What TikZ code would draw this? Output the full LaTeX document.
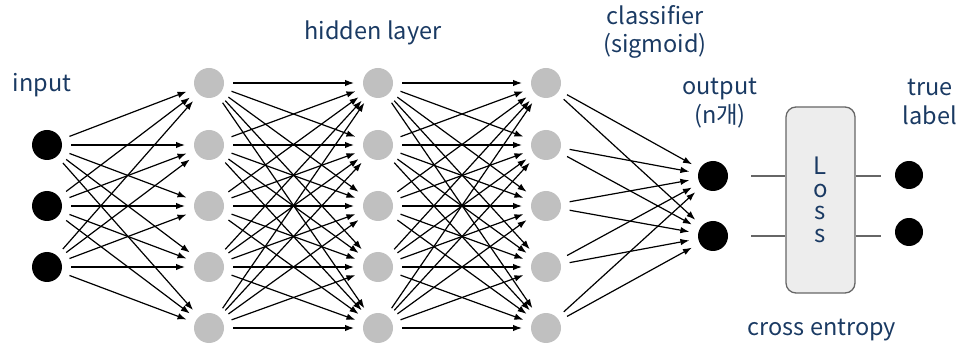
\documentclass[tikz,border=0pt]{standalone}
\usepackage{fontspec}
\setmainfont{Noto Sans CJK KR}
\usetikzlibrary{arrows.meta}
\definecolor{labelblue}{HTML}{1A3A63}
\definecolor{unitgray}{HTML}{C0C0C0}
\definecolor{lossfill}{HTML}{EDEDED}
\definecolor{lossedge}{HTML}{666666}
\begin{document}
\begin{tikzpicture}[x=1pt,y=-1pt,
  unit/.style={circle,minimum size=30pt,inner sep=0pt,outer sep=9pt},
  darkunit/.style={unit,fill=black},
  hidunit/.style={unit,fill=unitgray},
  link/.style={-{Latex[length=9pt,width=6.5pt]},line width=1.2pt},
  lbl/.style={text=labelblue,font=\fontsize{23.5}{28.5}\selectfont,align=center,inner sep=0pt},
  wire/.style={draw=lossedge,line width=1.3pt}]
\useasboundingbox (0,0) rectangle (960,344);

% input units
\foreach \i/\y in {1/145,2/206,3/267}
  \node[darkunit] (in\i) at (47,\y) {};
% hidden layers and classifier layer
\foreach \l/\x in {a/209,b/378,c/546}
  \foreach \j/\y in {1/83,2/145,3/206,4/267,5/328}
    \node[hidunit] (\l\j) at (\x,\y) {};
% output units
\node[darkunit] (o1) at (713,176) {};
\node[darkunit] (o2) at (713,236) {};
% true label units
\node[darkunit,minimum size=28pt] (t1) at (909,175) {};
\node[darkunit,minimum size=28pt] (t2) at (909,232) {};

% loss block
\node[rounded corners=10pt,fill=lossfill,draw=lossedge,line width=1.3pt,
      minimum width=69pt,minimum height=186pt,text=labelblue,
      font=\fontsize{24}{22.5}\selectfont,align=center] (loss) at (820.5,200)
      {L\\o\\s\\s};

% fully connected links
\foreach \i in {1,2,3}
  \foreach \j in {1,...,5}
    \draw[link] (in\i) -- (a\j);
\foreach \i in {1,...,5}
  \foreach \j in {1,...,5} {
    \draw[link] (a\i) -- (b\j);
    \draw[link] (b\i) -- (c\j);
  }
\foreach \i in {1,...,5}
  \foreach \j in {1,2}
    \draw[link] (c\i) -- (o\j);

% loss wires
\foreach \k in {1,2} {
  \draw[wire] ([xshift=14pt]o\k.east) -- (loss.west |- o\k);
  \draw[wire] (loss.east |- o\k) -- ([xshift=-5pt]t\k.west |- o\k);
}

% labels
\node[lbl] (lin) at (42,85) {input};
\node[lbl] (lhid) at (373,33) {hidden layer};
\node[lbl] (lcls) at (655,32) {classifier\\(sigmoid)};
\node[lbl] (lout) at (720,103) {output\\(n개)};
\node[lbl] (ltrue) at (930,102) {true\\label};
\node[lbl] (lce) at (822,330) {cross entropy};
\end{tikzpicture}
\end{document}
